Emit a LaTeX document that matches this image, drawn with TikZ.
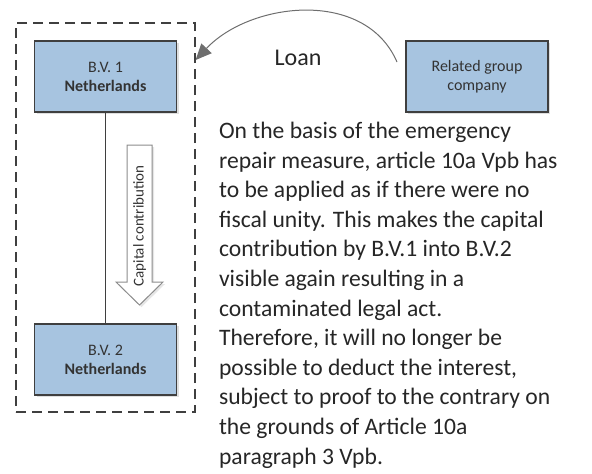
\documentclass[tikz,border=0pt]{standalone}
\usepackage{fontspec}
\setmainfont{Carlito}
\usepackage{xcolor}
\usepackage{tikz}
\usetikzlibrary{shapes.geometric, arrows, arrows.meta, positioning, fit, backgrounds, calc, shadows}
\definecolor{entityfill}{HTML}{A7C4E0}
\definecolor{entityline}{HTML}{3F3F3F}
\definecolor{blockline}{HTML}{8C8C8C}
\definecolor{loanline}{HTML}{6E6E6E}

\begin{document}
\begin{tikzpicture}[x=0.5pt, y=-0.5pt,
    entity/.style={draw=entityline, fill=entityfill, line width=0.8pt,
      minimum width=71pt, minimum height=35.5pt, align=center,
      font=\fontsize{8}{9.6}\selectfont, text=black!80,
      drop shadow={shadow xshift=1pt, shadow yshift=-1pt, opacity=0.25}},
    unitybox/.style={draw=entityline, line width=0.6pt, dash pattern=on 5pt off 3pt,
      minimum width=89.5pt, minimum height=194.5pt}]
    \useasboundingbox (0,0) rectangle (592,473);
    % Fiscal unity (dashed frame)
    \node[unitybox] (unity) at (105.5,217.5) {};
    % Entities
    \node[entity] (bv1) at (105.5,76.5) {B.V. 1\\\textbf{Netherlands}};
    \node[entity] (bv2) at (105.5,359.5) {B.V. 2\\\textbf{Netherlands}};
    \node[entity] (rel) at (477,76.5) {Related group\\company};
    \draw[entityline, line width=0.5pt] (bv1) -- (bv2);
    % Capital contribution block arrow
    \draw[blockline, fill=white, line width=0.5pt,
      drop shadow={shadow xshift=1pt, shadow yshift=-1pt, opacity=0.2}]
      (127,145) -- (152,145) -- (152,282) -- (163,282) -- (139.5,305)
      -- (116,282) -- (127,282) -- cycle;
    \node[rotate=90, font=\fontsize{7.5}{9}\selectfont, text=black!80] (capital) at (139.5,226) {Capital contribution};
    % Loan
    \coordinate (loanstart) at (397,62);
    \coordinate (loanend) at (unity.east |- 0,60);
    \draw[loanline, line width=0.5pt, -{Triangle[length=8pt,width=7pt]}]
      (loanstart) .. controls (365,-12) and (250,2) .. (loanend);
    \node[font=\fontsize{12}{14}\selectfont, text=black!85] (loan) at (298,58) {Loan};
    % Explanation
    \node[anchor=north west, align=left, font=\fontsize{11.8}{14.8}\selectfont, text=black!85] (note) at (212,115)
      {On the basis of the emergency\\
       repair measure, article 10a Vpb has\\
       to be applied as if there were no\\
       fiscal unity. This makes the capital\\
       contribution by B.V.1 into B.V.2\\
       visible again resulting in a\\
       contaminated legal act.\\
       Therefore, it will no longer be\\
       possible to deduct the interest,\\
       subject to proof to the contrary on\\
       the grounds of Article 10a\\
       paragraph 3 Vpb.};
\end{tikzpicture}
\end{document}
